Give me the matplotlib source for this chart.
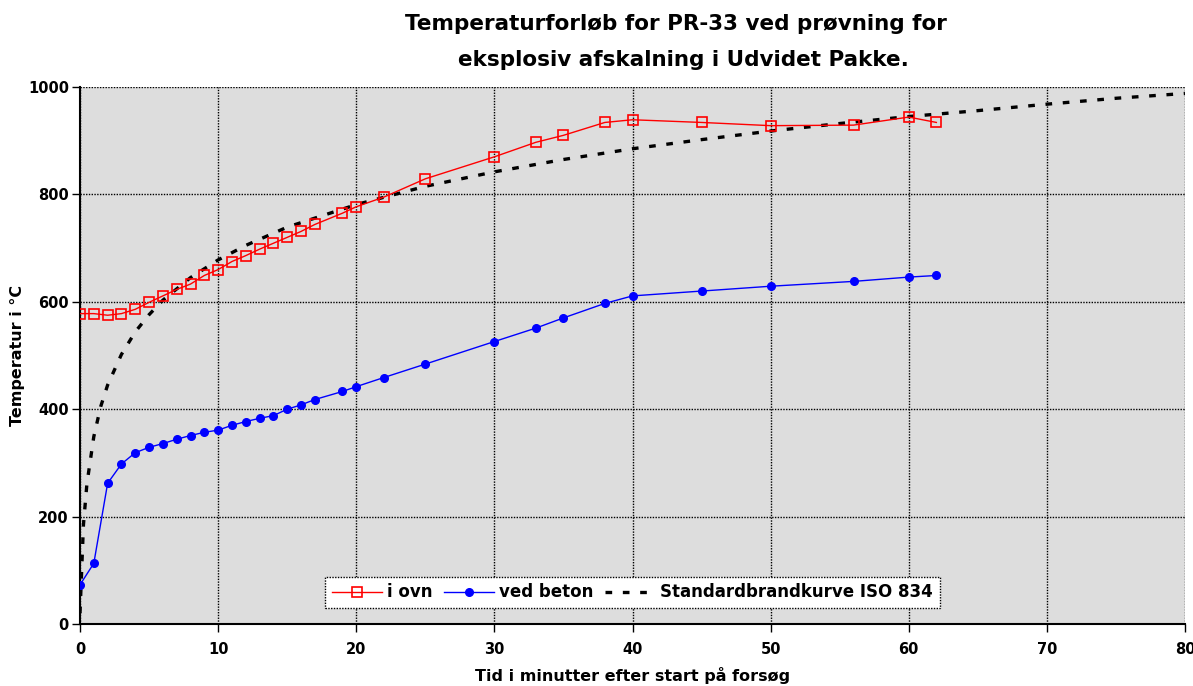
import matplotlib
matplotlib.use("Agg")
import matplotlib.pyplot as plt

plt.rcParams['font.family'] = ['DejaVu Sans']
plt.rcParams['font.weight'] = 'bold'

# time in minutes for the measured series
t_meas = [0, 1, 2, 3, 4, 5, 6, 7, 8, 9, 10, 11, 12, 13, 14, 15, 16, 17,
          19, 20, 22, 25, 30, 33, 35, 38, 40, 45, 50, 56, 60, 62]
# i ovn (furnace)
i_ovn = [578, 578, 575, 578, 586, 599, 611, 623, 633, 649, 660, 675, 686,
         698, 709, 720, 731, 744, 765, 777, 795, 829, 870, 897, 910, 934,
         939, 934, 928, 929, 944, 934]
# ved beton (at concrete)
ved_beton = [73, 113, 262, 298, 319, 329, 336, 344, 351, 357, 361, 370, 377,
             383, 388, 400, 408, 418, 433, 442, 459, 484, 526, 551, 570, 597,
             611, 620, 629, 638, 646, 649]
# standard fire curve
t_iso = [0, 0.25, 0.5, 1, 1.5, 2, 3, 4, 5, 6, 8, 10, 12, 15, 20, 25, 30,
         35, 40, 45, 50, 55, 60, 65, 70, 75, 80]
iso = [20, 185, 261, 349, 405, 445, 502, 544, 576, 603, 645, 678, 705, 739,
       781, 815, 842, 865, 885, 902, 918, 932, 945, 956, 968, 979, 988]

W, H = 1193, 686
fig = plt.figure(figsize=(W / 100, H / 100), dpi=100)
ax = fig.add_axes([80 / W, (H - 624) / H, (1185 - 80) / W, (624 - 87) / H])
ax.set_facecolor('#DDDDDD')

ax.plot(t_meas, i_ovn, color='#FF0000', lw=1.0, marker='s', ms=6.5,
        mfc='none', mec='#FF0000', mew=1.2, label='i ovn', zorder=4)
ax.plot(t_meas, ved_beton, color='#0000FF', lw=1.0, marker='o', ms=5.5,
        mfc='#0000FF', mec='#0000FF', label='ved beton', zorder=4)
ax.plot(t_iso, iso, color='black', lw=2.4, dashes=(2.0, 3.2),
        label='Standardbrandkurve ISO 834', zorder=3)

ax.set_xlim(0, 80)
ax.set_ylim(0, 1000)
ax.set_xticks(range(0, 81, 10))
ax.set_yticks(range(0, 1001, 200))
ax.grid(True, color='black', linestyle=(0, (1, 1)), lw=1.0)
ax.set_axisbelow(True)
for s in ['top', 'right']:
    ax.spines[s].set_visible(False)
for s in ['left', 'bottom']:
    ax.spines[s].set_linewidth(1.5)
ax.tick_params(direction='out', length=6, width=1, labelsize=10.5)
ax.tick_params(axis='x', pad=7)
ax.tick_params(axis='y', pad=2)
for lab in ax.get_xticklabels() + ax.get_yticklabels():
    lab.set_fontweight('bold')

ax.set_xlabel('Tid i minutter efter start på forsøg', fontsize=11.5,
              fontweight='bold')
ax.set_ylabel('Temperatur i °C', fontsize=11.5, fontweight='bold')
ax.xaxis.set_label_coords(0.5, (624 - 676) / 537, transform=ax.transAxes)
ax.yaxis.set_label_coords((18 - 80) / 1105, 0.5, transform=ax.transAxes)
ax.xaxis.label.set_va('center')
ax.yaxis.label.set_va('center')

fig.text(676 / W, 1 - 24 / H, 'Temperaturforløb for PR-33 ved prøvning for',
         ha='center', va='center', fontsize=15.5, fontweight='bold')
fig.text(683 / W, 1 - 60 / H, 'eksplosiv afskalning i Udvidet Pakke.',
         ha='center', va='center', fontsize=15.5, fontweight='bold')

leg = ax.legend(loc='lower center', bbox_to_anchor=(0.5, 16 / 537), ncol=3,
                fontsize=12, handlelength=3, handletextpad=0.3,
                columnspacing=0.7, borderpad=0.4, borderaxespad=0,
                fancybox=False, framealpha=1, edgecolor='black')
leg.get_frame().set_linestyle((0, (1, 1)))
leg.get_frame().set_linewidth(1.0)
for txt in leg.get_texts():
    txt.set_fontweight('bold')

fig.savefig('out.png', dpi=100)
